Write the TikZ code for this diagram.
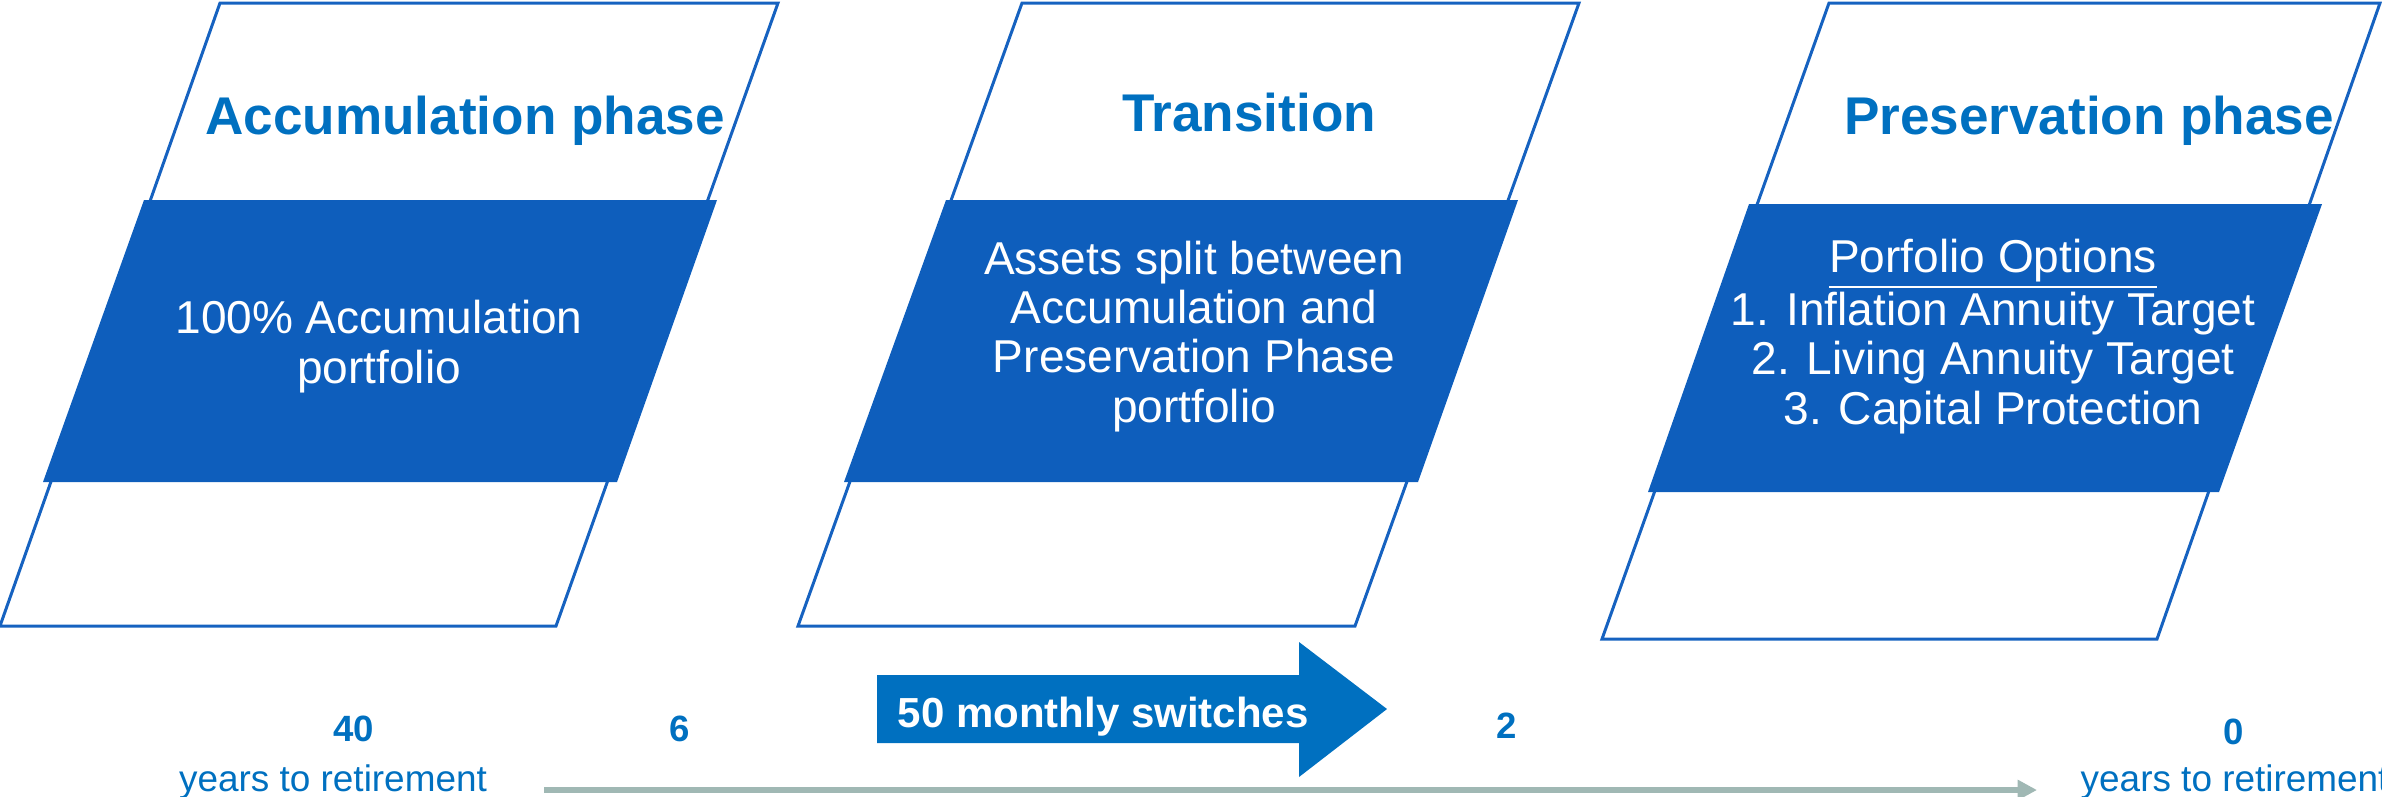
\documentclass[tikz,border=0pt]{standalone}
\usepackage{fontspec}
\setmainfont{Liberation Sans}
\usetikzlibrary{arrows.meta}

\definecolor{titleblue}{RGB}{0,112,192}
\definecolor{bandblue}{RGB}{14,94,188}
\definecolor{lineblue}{RGB}{22,98,192}
\definecolor{timegrey}{RGB}{160,184,180}

\begin{document}
\begin{tikzpicture}[x=0.01cm,y=-0.01cm,
  frame/.style={draw=lineblue,line width=0.85pt},
  band/.style={fill=bandblue},
  phase/.style={text=titleblue,font=\fontsize{15.1}{18}\selectfont\bfseries,anchor=base,inner sep=0pt},
  body/.style={text=white,font=\fontsize{13.1}{13.95}\selectfont,align=center,anchor=base,inner sep=0pt},
  yearnum/.style={text=titleblue,font=\fontsize{10.4}{12}\selectfont\bfseries,anchor=base,inner sep=0pt},
  yearlbl/.style={text=titleblue,font=\fontsize{10.5}{12}\selectfont,inner sep=0pt}]
  \useasboundingbox (0,0) rectangle (2382,796);

  % accumulation phase
  \draw[frame] (220,3) -- (778,3) -- (556,626) -- (0,626) -- cycle;
  \fill[band] (144,200) -- (717,200) -- (617,482) -- (43,482) -- cycle;
  \node[phase] (accTitle) at (465,134) {Accumulation phase};
  \node[body] (accText) at (379,383) {100\% Accumulation\\portfolio};

  % transition
  \draw[frame] (1022,3) -- (1579,3) -- (1355,626) -- (798,626) -- cycle;
  \fill[band] (946,200) -- (1518,200) -- (1418,482) -- (844,482) -- cycle;
  \node[phase] (trnTitle) at (1249,131) {Transition};
  \node[body] (trnText) at (1194,422) {Assets split between\\Accumulation and\\Preservation Phase\\portfolio};

  % preservation phase
  \draw[frame] (1829,3) -- (2380,3) -- (2157,639) -- (1602,639) -- cycle;
  \fill[band] (1749,204) -- (2322,204) -- (2219,492) -- (1648,492) -- cycle;
  \node[phase] (preTitle) at (2089,134) {Preservation phase};
  \node[body] (preText) at (1993,424) {\underline{Porfolio Options}\\1. Inflation Annuity Target\\2. Living Annuity Target\\3. Capital Protection};

  % switches arrow
  \fill[titleblue] (877,675) -- (1299,675) -- (1299,642) -- (1387,709)
    -- (1299,777) -- (1299,743) -- (877,743) -- cycle;
  \node[text=white,font=\fontsize{11.95}{14}\selectfont\bfseries,anchor=base west,inner sep=0pt]
    (switches) at (897,727) {50 monthly switches};

  % years to retirement
  \node[yearnum] (y40) at (354,741) {40};
  \node[yearlbl,anchor=base] (y40lbl) at (333,791) {years to retirement};
  \node[yearnum] (y6) at (680,741) {6};
  \node[yearnum] (y2) at (1507,738) {2};
  \node[yearnum] (y0) at (2234,744) {0};
  \node[yearlbl,anchor=base west] (y0lbl) at (2080,791) {years to retirement};

  \coordinate (tlStart) at (544,790);
  \coordinate (tlEnd) at (2037,790);
  \draw[timegrey,line width=1.7pt,-{Triangle[length=5.5pt,width=5.5pt]}] (tlStart) -- (tlEnd);
\end{tikzpicture}
\end{document}
